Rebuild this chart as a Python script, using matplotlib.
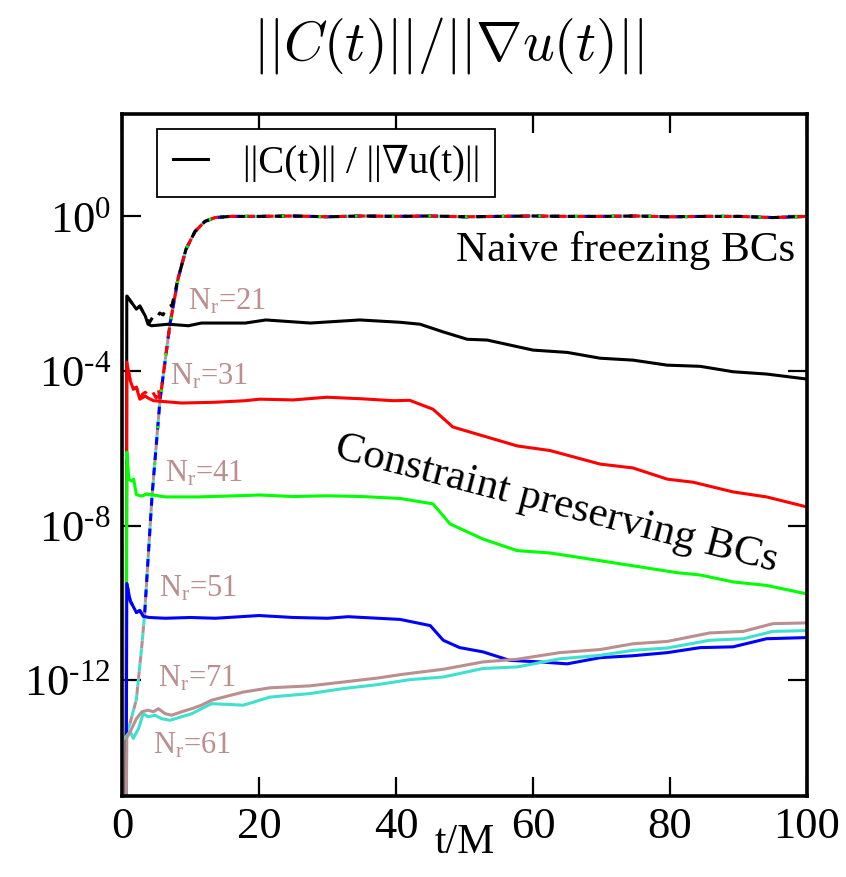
import matplotlib
matplotlib.use("Agg")
import matplotlib.pyplot as plt
import numpy as np

plt.rcParams['font.family'] = ['Liberation Serif', 'DejaVu Serif']
plt.rcParams['mathtext.fontset'] = 'custom'
plt.rcParams['mathtext.rm'] = 'Liberation Serif'
plt.rcParams['mathtext.it'] = 'Liberation Serif:italic'
plt.rcParams['mathtext.bf'] = 'Liberation Serif:bold'
plt.rcParams['axes.unicode_minus'] = False

# ---------------- data (t/M, log10 of ||C||/||grad u||) ----------------
t_black = [0.6, 0.7, 1.4, 2.1, 2.6, 3.4, 3.8, 4.3, 6.8, 9.7, 11.6, 18, 21, 27.5, 34.7, 40.6, 43.5,
           46.9, 50.4, 53.3, 60, 65, 69.8, 74.6, 79.6, 84.4, 89.2, 94.1, 100]
lg_black = [-16, -2.06, -2.23, -2.4, -2.32, -2.58, -2.79, -2.83, -2.79, -2.83, -2.76, -2.76, -2.68,
            -2.76, -2.68, -2.74, -2.79, -2.99, -3.18, -3.2, -3.46, -3.52, -3.67, -3.72, -3.85,
            -3.88, -4.02, -4.08, -4.21]

t_red = [0.6, 0.7, 1.2, 1.65, 2.1, 2.6, 3.4, 3.8, 4.6, 8.7, 13.6, 18, 20.1, 25, 29.9, 35, 39.6,
         42, 45.4, 48.3, 52.7, 57.7, 62.5, 69.8, 74.6, 79.6, 83.4, 89.2, 94.1, 100]
lg_red = [-16, -3.77, -4.25, -4.47, -4.42, -4.73, -4.65, -4.7, -4.77, -4.83, -4.81, -4.77, -4.73,
          -4.75, -4.68, -4.72, -4.77, -4.76, -4.99, -5.45, -5.68, -5.94, -6.06, -6.41, -6.51,
          -6.8, -6.88, -7.13, -7.26, -7.52]

t_green = [0.6, 0.7, 1.0, 1.4, 1.7, 2.1, 2.9, 3.6, 6.3, 11.1, 15, 20.1, 25, 29.9, 35, 40.6,
           45.4, 47.9, 52.7, 57.7, 62.5, 69.8, 75.6, 81, 84.4, 89.2, 94.1, 100]
lg_green = [-16, -6.1, -6.8, -6.85, -6.8, -7.2, -7.24, -7.18, -7.26, -7.26, -7.24, -7.21, -7.25,
            -7.23, -7.25, -7.3, -7.44, -7.96, -8.35, -8.65, -8.71, -8.91, -9.07, -9.22, -9.28,
            -9.46, -9.55, -9.77]

t_blue = [0.6, 0.7, 1.2, 1.65, 2.1, 2.6, 3.1, 4.0, 6.3, 10, 13.6, 20, 25, 30, 33, 40.6, 45,
          46.9, 49.3, 52.7, 56.6, 61, 65, 69.8, 74.6, 79.6, 84.4, 89.2, 94.1, 100]
lg_blue = [-16, -9.5, -9.95, -10.1, -10.25, -10.2, -10.35, -10.38, -10.4, -10.38, -10.4, -10.33,
           -10.38, -10.4, -10.36, -10.43, -10.59, -10.97, -11.16, -11.27, -11.49, -11.53,
           -11.58, -11.42, -11.37, -11.29, -11.16, -11.14, -10.93, -10.9]

t_cyan = [0.4, 1.2, 1.65, 2.4, 3.1, 3.8, 4.8, 5.8, 7.0, 8.7, 10.2, 11.6, 13.1, 17.7, 21.6, 27.4,
          32.3, 37.2, 42, 46.9, 52.7, 57.7, 63.9, 69.8, 74.6, 79.6, 85.8, 90.7, 95, 100]
lg_cyan = [-13.5, -13.33, -13.51, -13.26, -12.87, -12.95, -12.91, -13.0, -13.04, -12.95, -12.87,
           -12.74, -12.61, -12.65, -12.44, -12.35, -12.22, -12.12, -11.99, -11.92, -11.7, -11.66,
           -11.45, -11.36, -11.23, -11.17, -10.97, -10.93, -10.74, -10.72]

t_brown = [0.6, 0.7, 1.4, 2.1, 2.9, 3.8, 4.6, 5.3, 6.3, 7.25, 8.7, 10.2, 11.6, 13.1, 17.7, 21.6,
           27.4, 32.3, 37.2, 41, 46.9, 52.7, 57.7, 63.9, 69.8, 74.6, 79.6, 85.8, 90.7, 95, 100]
lg_brown = [-16, -13.5, -13.26, -13.0, -12.82, -12.78, -12.82, -12.74, -12.87, -12.91, -12.82,
            -12.74, -12.65, -12.52, -12.31, -12.2, -12.15, -12.05, -11.95, -11.85, -11.72,
            -11.53, -11.46, -11.29, -11.21, -11.06, -11.0, -10.78, -10.74, -10.54, -10.52]

# naive freezing BCs: shared rise + plateau
t_rise = [2.1, 2.9, 3.3, 4.38, 5.55, 7.0, 8.2, 9.34, 10.66, 12.1, 13.6, 15.8, 20, 25, 30, 35, 40,
          45, 50, 55, 60, 65, 70, 75, 80, 85, 90, 95, 100]
lg_rise = [-12.5, -11.1, -10.3, -7.24, -4.75, -2.79, -1.6, -0.85, -0.39, -0.13, -0.03, 0.0, 0.0,
           0.01, -0.01, 0.01, 0.0, 0.01, -0.01, 0.0, 0.01, 0.0, 0.0, 0.01, -0.01, 0.0, 0.0,
           -0.03, 0.0]
# early parts of naive runs (before joining the rise)
t_nv_black = [0.7, 1.4, 2.1, 2.6, 3.4, 4.0, 4.5, 5.0, 5.5, 6.0, 6.5, 7.3]
lg_nv_black = [-2.06, -2.23, -2.4, -2.32, -2.58, -2.75, -2.6, -2.65, -2.5, -2.55, -2.35, -2.3]
t_nv_red = [0.7, 1.2, 1.65, 2.1, 2.6, 3.0, 3.4, 3.9, 4.5, 5.0, 5.3]
lg_nv_red = [-3.77, -4.25, -4.47, -4.42, -4.73, -4.6, -4.55, -4.65, -4.55, -4.7, -4.45]
t_nv_green = [0.7, 1.0, 1.4, 1.7, 2.1, 2.9, 3.6]
lg_nv_green = [-6.1, -6.8, -6.85, -6.8, -7.2, -7.24, -7.18]
t_nv_blue = [0.7, 1.2, 1.65, 2.1, 2.6, 3.1]
lg_nv_blue = [-9.5, -9.95, -10.1, -10.25, -10.2, -10.35]
t_nv_cyan = [0.4, 1.2]
lg_nv_cyan = [-13.5, -13.1]

labels_nr = ['21', '31', '41', '51', '71', '61']
label_t = [9.6, 7.0, 6.3, 5.4, 5.25, 4.5]
label_lg = [-2.4, -4.34, -6.85, -9.84, -12.17, -13.9]

ytick_exp = [0, -4, -8, -12]

C_BLACK, C_RED, C_GREEN, C_BLUE = 'black', '#ff0000', '#00ff00', '#0000ff'
C_CYAN, C_BROWN = '#40e0d0', '#bc8f8f'

# ---------------- figure ----------------
fig = plt.figure(figsize=(8.46, 8.77), dpi=100)
ax = fig.add_axes([122/846, 1-796/877, (807-122)/846, (796-114)/877])

lw = 2.2


def P(t, lg):
    return np.asarray(t, float), 10.0 ** np.asarray(lg, float)


def naive(t_e, lg_e, t_join):
    tr = np.asarray(t_rise); lr = np.asarray(lg_rise)
    m = tr >= t_join
    return P(list(t_e) + list(tr[m]), list(lg_e) + list(lr[m]))


# naive dashed curves (drawn so black/red/green dominate on the plateau)
nv = [
    (naive(t_nv_cyan, lg_nv_cyan, 2.1), C_BROWN, (0, (2.5, 2.5))),
    (naive(t_nv_cyan, lg_nv_cyan, 2.1), C_CYAN, (2.5, (2.5, 2.5))),
    (naive(t_nv_blue, lg_nv_blue, 3.3), C_BLUE, (0, (2.5, 2.5))),
    (naive(t_nv_red, lg_nv_red, 5.55), C_RED, (3, (3, 3))),
    (naive(t_nv_black, lg_nv_black, 8.2), C_BLACK, (0, (3, 3))),
    (naive(t_nv_green, lg_nv_green, 4.38), C_GREEN, (4.2, (0.8, 11.2))),
]
for (x, y), c, ls in nv:
    ax.plot(x, y, color=c, lw=lw, linestyle=ls)

# solid curves
ax.plot(*P(t_black, lg_black), color=C_BLACK, lw=lw, label=r'||C(t)|| / ||∇u(t)||')
ax.plot(*P(t_red, lg_red), color=C_RED, lw=lw)
ax.plot(*P(t_green, lg_green), color=C_GREEN, lw=lw)
ax.plot(*P(t_blue, lg_blue), color=C_BLUE, lw=lw)
ax.plot(*P(t_cyan, lg_cyan), color=C_CYAN, lw=lw)
ax.plot(*P(t_brown, lg_brown), color=C_BROWN, lw=lw)

ax.set_yscale('log')
ax.set_xlim(0, 100)
ax.set_ylim(1e-15, 10 ** 2.65)
ax.set_yticks([10.0 ** e for e in ytick_exp])
ax.set_yticklabels([r'$\mathdefault{10^{' + str(e).replace('-', '\u2010') + r'}}$'
                    for e in ytick_exp])
ax.yaxis.set_minor_locator(matplotlib.ticker.NullLocator())
ax.set_xticks([0, 20, 40, 60, 80, 100])

for s in ax.spines.values():
    s.set_linewidth(2.6)
ax.tick_params(which='major', direction='in', length=14, width=1.6, top=True, right=True,
               labelsize=32, pad=8)

ax.set_xlabel('t/M', fontsize=30, labelpad=-17)

# N_r labels
for lab, tx, ly in zip(labels_nr, label_t, label_lg):
    ax.text(tx, 10 ** ly, r'N$_\mathrm{r}$=' + lab, color=C_BROWN, fontsize=22,
            ha='left', va='baseline')

ax.text(98.2, 10 ** -1.16, 'Naive freezing BCs', fontsize=31, ha='right', va='baseline')
ax.text(63.4, 10 ** -7.45, 'Constraint preserving BCs', fontsize=31, ha='center',
        va='center', rotation=-14.5, rotation_mode='anchor')

leg = ax.legend(loc='upper left', bbox_to_anchor=(157/846, 1-129/877),
                bbox_transform=fig.transFigure, borderaxespad=0, fontsize=28,
                frameon=True, fancybox=False, edgecolor='black', framealpha=1,
                handlelength=0.9, handletextpad=0.9, borderpad=0.4)
leg.get_frame().set_linewidth(1.3)

fig.text(448/846, 1-45/877, r'$||C(t)||/||\nabla u(t)||$', fontsize=40,
         math_fontfamily='cm', ha='center', va='center')

fig.savefig('out.png', dpi=100)
